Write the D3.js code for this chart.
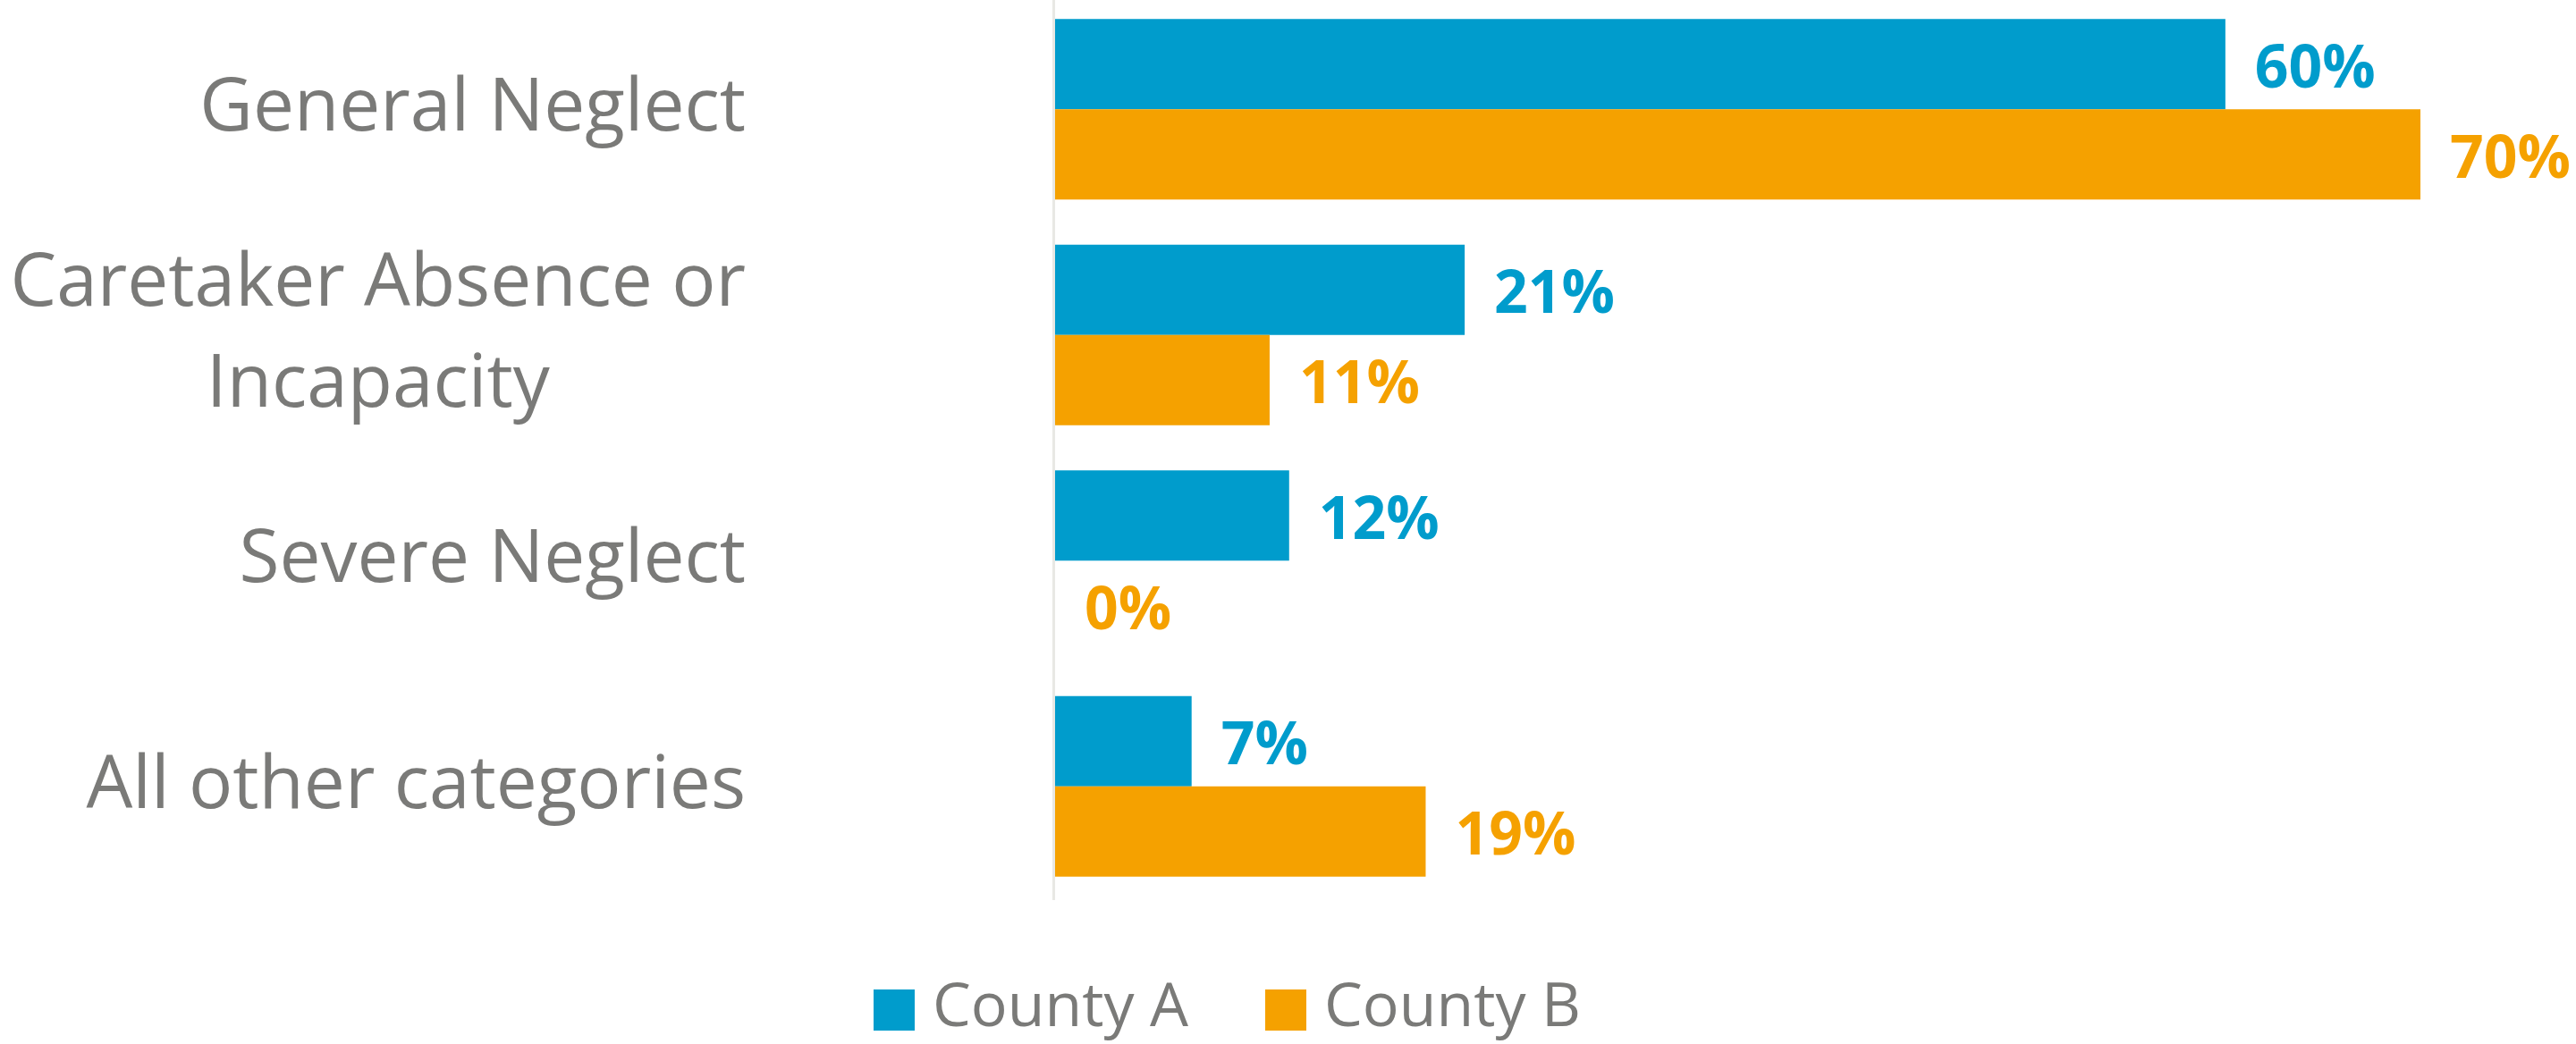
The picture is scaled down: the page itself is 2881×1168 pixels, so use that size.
<!DOCTYPE html>
<html>
<head>
<meta charset="utf-8">
<script src="https://cdn.jsdelivr.net/npm/d3@7"></script>
<style>
  html, body { margin: 0; padding: 0; background: #ffffff; }
  svg { display: block; }
</style>
</head>
<body>
<svg id="chart" width="2881" height="1168"></svg>
<script>
// ---- data ----
const categories = ["General Neglect", "Caretaker Absence or Incapacity", "Severe Neglect", "All other categories"];
const categoryLines = [["General Neglect"], ["Caretaker Absence or", "Incapacity"], ["Severe Neglect"], ["All other categories"]];
const seriesNames = ["County A", "County B"];
const countyA = [60, 21, 12, 7];
const countyB = [70, 11, 0, 19];
const colors = ["#009ccc", "#f5a100"];

// ---- layout ----
const svg = d3.select("#chart");
const textGray = "#7a7a78";

const x = d3.scaleLinear().domain([0, 70]).range([1180, 2707]);
const y = d3.scaleBand().domain(categories).range([-4, 1006]).paddingInner(0.2).paddingOuter(0.1);
const ySub = d3.scaleBand().domain(seriesNames).range([0, y.bandwidth()]).padding(0);

const rows = [];
categories.forEach((c, i) => {
  rows.push({cat: c, series: seriesNames[0], value: countyA[i], color: colors[0]});
  rows.push({cat: c, series: seriesNames[1], value: countyB[i], color: colors[1]});
});

// axis line
svg.append("line")
  .attr("x1", x(0) - 1.5).attr("x2", x(0) - 1.5)
  .attr("y1", 0).attr("y2", 1007)
  .attr("stroke", "#e8e8e4").attr("stroke-width", 3);

// bars
svg.append("g").selectAll("rect").data(rows).join("rect")
  .attr("x", x(0))
  .attr("y", d => y(d.cat) + ySub(d.series))
  .attr("width", d => x(d.value) - x(0))
  .attr("height", ySub.bandwidth())
  .attr("fill", d => d.color);

// value labels
svg.append("g").selectAll("text").data(rows).join("text")
  .attr("x", d => x(d.value) + 33)
  .attr("y", d => y(d.cat) + ySub(d.series) + ySub.bandwidth() / 2 + 26)
  .attr("font-family", "'Open Sans', sans-serif")
  .attr("font-weight", 700)
  .attr("font-size", 66)
  .attr("fill", d => d.color)
  .text(d => d.value + "%");

// category labels (block right-aligned, lines centered within block)
const lineH = 113;
const labelRight = 834;
const catG = svg.append("g");
categories.forEach((c, i) => {
  const lines = categoryLines[i];
  const cy = y(c) + y.bandwidth() / 2 + 24;
  const t = catG.append("text")
    .attr("text-anchor", "middle")
    .attr("font-family", "'Open Sans', sans-serif")
    .attr("font-size", 82)
    .attr("fill", textGray);
  const spans = lines.map((ln, j) => t.append("tspan")
    .attr("y", cy + (j - (lines.length - 1) / 2) * lineH)
    .text(ln));
  const maxW = d3.max(spans, s => s.node().getComputedTextLength());
  spans.forEach(s => s.attr("x", labelRight - maxW / 2));
});

// legend
const legendX = [977, 1415];
const legend = svg.append("g");
seriesNames.forEach((s, i) => {
  legend.append("rect")
    .attr("x", legendX[i]).attr("y", 1107)
    .attr("width", 46).attr("height", 46)
    .attr("fill", colors[i]);
  legend.append("text")
    .attr("x", legendX[i] + 66).attr("y", 1148)
    .attr("font-family", "'Open Sans', sans-serif")
    .attr("font-size", 68)
    .attr("fill", textGray)
    .text(s);
});
</script>
</body>
</html>
